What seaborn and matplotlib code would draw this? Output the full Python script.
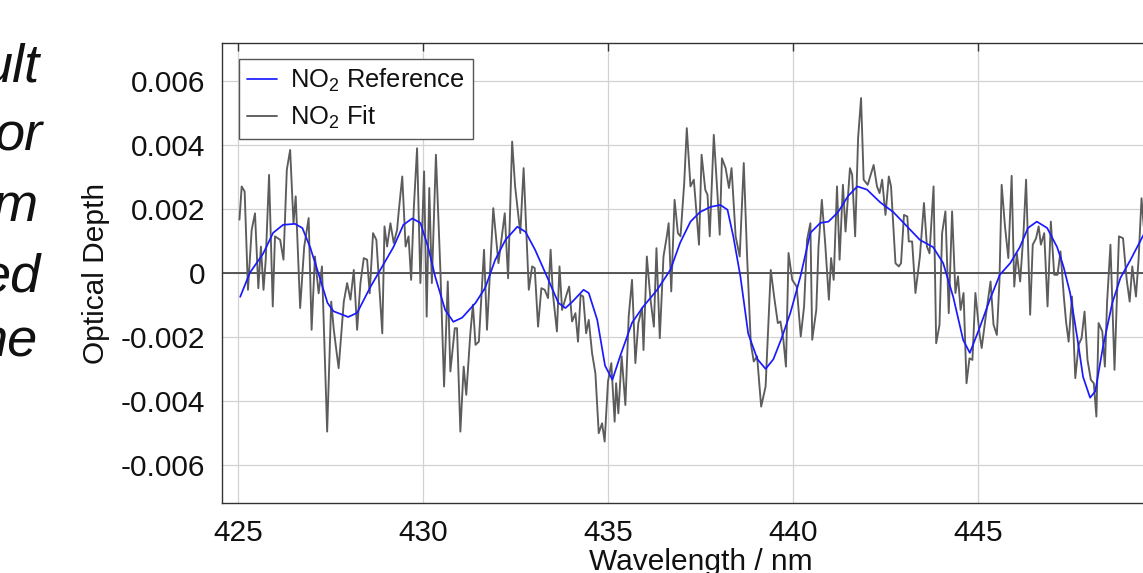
import matplotlib
matplotlib.use("Agg")
import matplotlib.pyplot as plt
import numpy as np
import pandas as pd
import seaborn as sns

# ---------------- data ----------------
# NO2 reference cross-section fit (smooth), optical depth in units of 1e-3
ref_wavelength = [
    425.05, 425.31, 425.67, 425.94, 426.21, 426.53, 426.73, 426.94, 427.16, 427.41,
    427.57, 427.97, 428.21, 428.57, 428.84, 429.19, 429.46, 429.70, 429.92, 430.13,
    430.32, 430.59, 430.81, 431.05, 431.41, 431.67, 431.94, 432.22, 432.54, 432.76,
    433.02, 433.38, 433.65, 433.84, 434.03, 434.33, 434.47, 434.70, 434.91, 435.11,
    435.32, 435.64, 435.94, 436.32, 436.68, 436.94, 437.22, 437.48, 437.76, 438.03,
    438.22, 438.38, 438.57, 438.78, 439.03, 439.25, 439.46, 439.68, 439.92, 440.19,
    440.46, 440.73, 440.95, 441.21, 441.48, 441.73, 441.99, 442.35, 442.70, 443.08,
    443.42, 443.78, 444.05, 444.32, 444.59, 444.77, 445.04, 445.31, 445.58, 445.86,
    446.12, 446.34, 446.58, 446.86, 447.13, 447.30, 447.48, 447.67, 447.83, 448.02,
    448.16, 448.37, 448.62, 448.84, 449.11, 449.47,
]
ref_depth_e3 = [
    -0.75, 0.00, 0.60, 1.25, 1.50, 1.53, 1.40, 0.80, 0.00, -0.94,
    -1.20, -1.38, -1.25, -0.44, 0.10, 0.80, 1.50, 1.70, 1.56, 0.80,
    -0.12, -1.16, -1.53, -1.40, -0.94, -0.47, 0.40, 1.03, 1.44, 1.28,
    0.72, -0.22, -0.94, -1.10, -0.90, -0.53, -0.63, -1.47, -2.90, -3.34,
    -2.60, -1.56, -1.06, -0.53, 0.10, 0.94, 1.60, 1.90, 2.06, 2.12,
    1.97, 1.12, -0.12, -1.90, -2.70, -3.00, -2.70, -2.05, -1.25, -0.12,
    1.25, 1.56, 1.60, 1.90, 2.40, 2.70, 2.60, 2.20, 1.90, 1.44,
    1.03, 0.80, 0.30, -0.75, -2.10, -2.50, -1.70, -0.84, -0.06, 0.30,
    0.80, 1.40, 1.60, 1.40, 0.80, 0.20, -0.63, -2.00, -3.25, -3.90,
    -3.70, -2.30, -0.94, -0.16, 0.40, 1.20,
]

# NO2 fit (noisy), optical depth in units of 1e-3
fit_wavelength = [
    425.03, 425.09, 425.17, 425.26, 425.36, 425.45, 425.54, 425.61, 425.68, 425.74,
    425.83, 425.93, 425.99, 426.13, 426.22, 426.31, 426.40, 426.49, 426.55, 426.67,
    426.78, 426.90, 426.98, 427.07, 427.17, 427.26, 427.40, 427.51, 427.58, 427.71,
    427.85, 427.94, 428.03, 428.12, 428.21, 428.30, 428.39, 428.48, 428.55, 428.64,
    428.73, 428.89, 428.95, 429.02, 429.11, 429.20, 429.29, 429.33, 429.43, 429.52,
    429.60, 429.67, 429.74, 429.83, 429.92, 430.02, 430.09, 430.16, 430.23, 430.34,
    430.46, 430.56, 430.66, 430.73, 430.85, 430.91, 431.00, 431.09, 431.16, 431.27,
    431.34, 431.41, 431.50, 431.64, 431.72, 431.89, 432.03, 432.20, 432.29, 432.40,
    432.48, 432.62, 432.71, 432.85, 432.94, 433.01, 433.10, 433.19, 433.28, 433.37,
    433.44, 433.50, 433.61, 433.68, 433.75, 433.88, 433.94, 434.02, 434.11, 434.18,
    434.25, 434.32, 434.40, 434.47, 434.56, 434.65, 434.74, 434.83, 434.90, 434.99,
    435.08, 435.17, 435.21, 435.27, 435.36, 435.46, 435.55, 435.64, 435.73, 435.81,
    435.91, 435.95, 436.04, 436.14, 436.23, 436.30, 436.39, 436.49, 436.58, 436.63,
    436.70, 436.79, 436.88, 436.95, 437.05, 437.12, 437.22, 437.31, 437.45, 437.52,
    437.62, 437.68, 437.74, 437.85, 437.95, 438.01, 438.07, 438.17, 438.26, 438.33,
    438.44, 438.55, 438.66, 438.75, 438.85, 438.93, 439.02, 439.13, 439.25, 439.39,
    439.48, 439.58, 439.65, 439.73, 439.80, 439.87, 439.97, 440.09, 440.20, 440.29,
    440.37, 440.46, 440.51, 440.62, 440.68, 440.77, 440.86, 440.96, 441.02, 441.09,
    441.18, 441.25, 441.34, 441.41, 441.53, 441.59, 441.67, 441.75, 441.83, 441.90,
    442.01, 442.17, 442.26, 442.33, 442.40, 442.49, 442.58, 442.64, 442.76, 442.85,
    442.91, 442.99, 443.08, 443.12, 443.21, 443.30, 443.42, 443.53, 443.61, 443.68,
    443.79, 443.86, 443.95, 444.02, 444.11, 444.20, 444.29, 444.38, 444.45, 444.52,
    444.60, 444.68, 444.76, 444.84, 444.92, 445.03, 445.09, 445.20, 445.33, 445.41,
    445.50, 445.57, 445.63, 445.72, 445.81, 445.90, 445.97, 446.04, 446.13, 446.22,
    446.29, 446.40, 446.47, 446.56, 446.63, 446.69, 446.78, 446.87, 446.96, 447.05,
    447.14, 447.22, 447.31, 447.37, 447.44, 447.53, 447.62, 447.71, 447.79, 447.87,
    447.95, 448.04, 448.12, 448.19, 448.25, 448.35, 448.42, 448.48, 448.57, 448.68,
    448.80, 448.91, 449.01, 449.09, 449.16, 449.26, 449.33, 449.41, 449.47,
]
fit_depth_e3 = [
    1.66, 2.70, 2.54, -0.53, 1.34, 1.86, -0.48, 0.82, -0.53, 0.41,
    3.06, -1.05, 1.14, 1.03, 0.41, 3.22, 3.84, 1.55, 2.39, -1.10,
    0.82, 1.71, -1.78, 0.51, -0.64, 0.20, -4.96, -0.90, -1.78, -2.98,
    -0.90, -0.32, -0.84, 0.09, -1.78, -0.32, 0.46, 0.41, -0.64, 1.24,
    1.03, -1.89, 1.45, 0.82, 1.55, 0.93, 1.34, 1.86, 3.01, 0.82,
    1.14, -0.22, 1.97, 3.89, -0.32, 3.17, -1.37, 2.65, -0.32, 3.69,
    0.09, -3.55, -0.27, -3.08, -1.73, -1.73, -4.96, -2.93, -3.81, -1.89,
    -1.00, -2.25, -2.15, 0.72, -1.78, 2.02, 0.30, 1.86, -0.17, 4.10,
    2.70, 1.24, 3.27, -0.53, 0.20, 0.15, -1.68, -0.48, -0.53, -0.79,
    0.72, -0.64, -1.83, 0.20, -1.16, -0.64, -0.43, -1.52, -1.26, -2.15,
    -0.69, -0.74, -1.89, -1.47, -2.51, -3.14, -5.01, -4.70, -5.27, -3.40,
    -2.82, -4.65, -3.45, -4.39, -2.61, -4.13, -1.36, -0.22, -2.82, -1.57,
    -1.10, -2.41, 0.51, -0.84, -1.68, 0.77, -2.04, 0.51, 1.14, 1.55,
    -0.58, 2.28, 1.24, 1.14, 2.80, 4.52, 2.70, 2.91, 0.88, 3.69,
    2.59, 2.44, 1.14, 4.31, 2.44, 1.19, 3.58, 3.27, 2.65, 3.27,
    1.14, 0.51, 3.43, 0.51, -2.20, -2.77, -2.61, -4.18, -3.55, 0.09,
    -0.74, -1.57, -1.52, -2.09, -2.93, 0.62, -0.22, -0.43, -1.99, -1.05,
    1.03, 1.55, -2.09, -1.16, 0.82, 2.28, 0.93, -0.84, 0.46, -0.22,
    2.70, 0.41, 2.75, 1.29, 3.27, 3.06, 1.14, 4.21, 5.46, 2.91,
    2.75, 3.37, 2.70, 2.49, 2.91, 1.81, 3.01, 2.70, 0.30, 0.20,
    0.30, 1.81, 1.76, 0.98, 0.98, -0.63, 0.51, 2.18, 0.82, 0.61,
    2.70, -2.20, -1.63, 1.24, 1.92, -1.26, 1.92, -0.63, -0.11, -1.16,
    -0.63, -3.45, -2.67, -2.72, -0.63, -1.89, -2.35, -1.36, -0.27, -1.62,
    -1.94, -0.27, 2.75, 1.45, 0.46, 3.03, -0.43, 0.61, -0.27, 1.24,
    2.91, -1.31, 0.88, 1.08, 1.45, 0.88, 1.24, -1.05, 1.60, -0.06,
    -0.06, 0.67, -0.74, -1.52, -2.15, -0.74, -3.29, -2.25, -2.04, -1.21,
    -2.72, -3.34, -3.45, -4.49, -1.57, -1.83, -2.93, -0.90, 0.88, -3.03,
    1.14, 1.08, -0.22, -0.90, 0.20, -0.74, 0.41, 2.33, 1.45,
]

x_ticks = [425, 430, 435, 440, 445]
y_ticks = [-0.006, -0.004, -0.002, 0.0, 0.002, 0.004, 0.006]
y_tick_labels = ["-0.006", "-0.004", "-0.002", "0", "0.002", "0.004", "0.006"]
legend_labels = [r"NO$_\mathregular{2}$ Reference", r"NO$_\mathregular{2}$ Fit"]
slide_fragments = ["ult", "or", "m", "ed", "he"]

ref_df = pd.DataFrame({"Wavelength": ref_wavelength,
                       "Depth": np.array(ref_depth_e3) * 1e-3})
fit_df = pd.DataFrame({"Wavelength": fit_wavelength,
                       "Depth": np.array(fit_depth_e3) * 1e-3})

# ---------------- style ----------------
sns.set_theme(style="white")
plt.rcParams["font.family"] = ["Liberation Sans", "DejaVu Sans"]
plt.rcParams["mathtext.fontset"] = "custom"
plt.rcParams["mathtext.rm"] = "Liberation Sans"
plt.rcParams["axes.unicode_minus"] = False

W, H = 1143, 573
fig = plt.figure(figsize=(W / 100, H / 100), dpi=100)
fig.patch.set_facecolor("white")

ax_left, ax_bottom_px, ax_top_px = 221.7, 503.3, 43.0
ax_width_px = 958.3
ax = fig.add_axes([ax_left / W, 1 - ax_bottom_px / H,
                   ax_width_px / W, (ax_bottom_px - ax_top_px) / H])
ax.set_facecolor("white")

ax.grid(True, color="#d2d2d2", linewidth=0.9)
ax.set_axisbelow(True)
ax.axhline(0, color="#3c3c3c", linewidth=1.2, zorder=1.5)

sns.lineplot(data=ref_df, x="Wavelength", y="Depth", ax=ax, color="#1a1aff",
             linewidth=1.25, sort=False, estimator=None, label=legend_labels[0],
             zorder=3)
sns.lineplot(data=fit_df, x="Wavelength", y="Depth", ax=ax, color="#5c5c5c",
             linewidth=1.35, sort=False, estimator=None, label=legend_labels[1],
             zorder=2)

ax.set_xlim(424.55, 450.45)
ax.set_ylim(-0.0072, 0.00718)
ax.set_xticks(x_ticks)
ax.set_xticklabels([str(t) for t in x_ticks])
ax.set_yticks(y_ticks)
ax.set_yticklabels(y_tick_labels)

ax.tick_params(direction="in", top=True, right=True, labelsize=21.5,
               color="#333333", width=1.0, labelcolor="#111111")
ax.tick_params(axis="y", length=8, pad=12)
ax.tick_params(axis="x", length=6, pad=11.5)
for sp in ax.spines.values():
    sp.set_visible(True)
    sp.set_color("#333333")
    sp.set_linewidth(1.0)

ax.set_xlabel("Wavelength / nm", fontsize=21.5, color="#111111")
ax.set_ylabel("Optical Depth", fontsize=21.5, color="#111111")
ax.xaxis.set_label_coords(0.5, -0.097)
ax.yaxis.set_label_coords((110 - ax_left) / ax_width_px, 0.5)

leg = ax.legend(loc="upper left",
                bbox_to_anchor=((239 - ax_left) / ax_width_px,
                                (ax_bottom_px - 59) / (ax_bottom_px - ax_top_px)),
                borderaxespad=0, fontsize=18.4, frameon=True, fancybox=False,
                framealpha=1, edgecolor="#555555", handlelength=1.2,
                handletextpad=0.5, borderpad=0.3, labelspacing=0.38)
leg.get_frame().set_linewidth(1.0)
for t in leg.get_texts():
    t.set_color("#111111")

# cropped slide text on the left
frag_right = [40, 42, 37, 40, 37]
frag_base = [82, 151, 221, 291, 356]
for txt, xr, yb in zip(slide_fragments, frag_right, frag_base):
    fig.text(xr / W, 1 - yb / H, txt, ha="right", va="baseline",
             fontsize=39, style="italic", color="#111111",
             family=["Liberation Sans", "DejaVu Sans"])

fig.savefig("out.png", dpi=100, facecolor="white")
